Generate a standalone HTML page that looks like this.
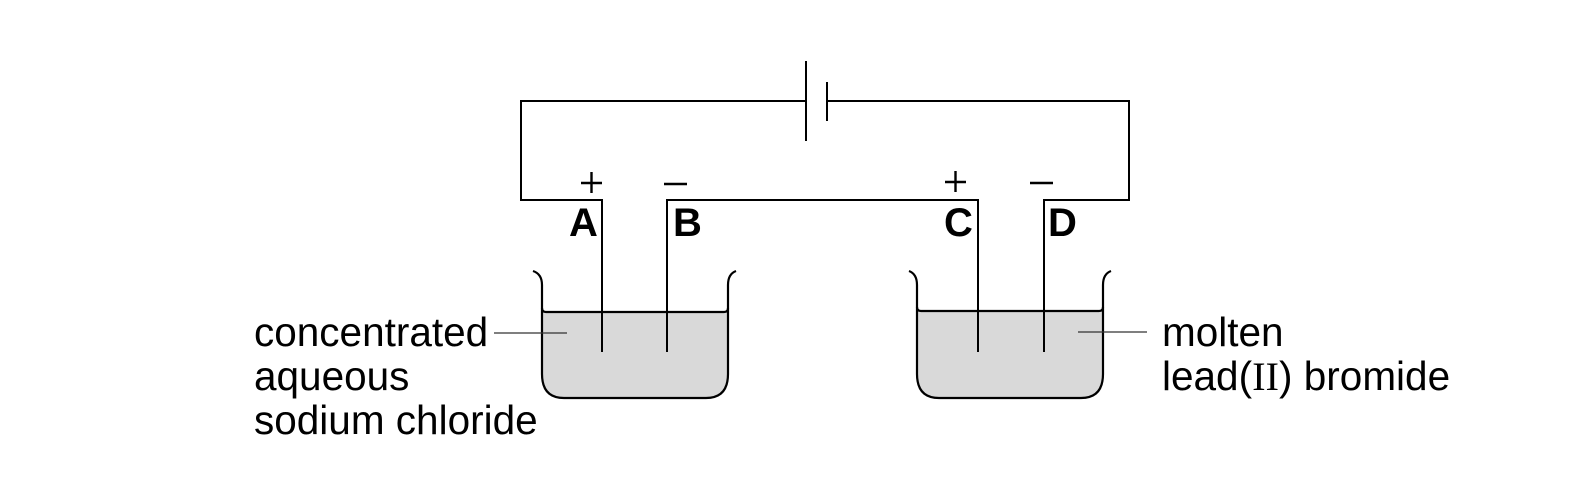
<!DOCTYPE html>
<html><head><meta charset="utf-8"><style>
html,body{margin:0;padding:0;background:#fff;}
svg{display:block;}
text{font-family:"Liberation Sans",Arial,sans-serif;fill:#000;}
</style></head><body>
<svg width="1592" height="498" viewBox="0 0 1592 498" xmlns="http://www.w3.org/2000/svg">
<rect width="1592" height="498" fill="#fff"/>
<g fill="none" stroke="#000" stroke-width="2">
<polyline points="806,101 521,101 521,200 602,200 602,352"/>
<polyline points="826,101 1129,101 1129,200 1044,200 1044,352"/>
<polyline points="667,352 667,200 978,200 978,352"/>
<line x1="806" y1="61" x2="806" y2="141"/>
<line x1="827" y1="82" x2="827" y2="121"/>
</g>
<path d="M542,312 L728,312 L728,374 Q728,398 706,398 L564,398 Q542,398 542,374 Z" fill="#d9d9d9"/>
<g fill="none" stroke="#000" stroke-width="2.2">
<path d="M533,271 Q542,274 542,285 L542,374 Q542,398 564,398 L706,398 Q728,398 728,374 L728,285 Q728,274 736,271"/>
<path d="M542,308 Q542,312 546,312 L724,312 Q728,312 728,308"/>
</g>
<path d="M917,311 L1103,311 L1103,374 Q1103,398 1081,398 L939,398 Q917,398 917,374 Z" fill="#d9d9d9"/>
<g fill="none" stroke="#000" stroke-width="2.2">
<path d="M909,271 Q917,274 917,285 L917,374 Q917,398 939,398 L1081,398 Q1103,398 1103,374 L1103,285 Q1103,274 1111,271"/>
<path d="M917,307 Q917,311 921,311 L1099,311 Q1103,311 1103,307"/>
</g>
<g stroke="#000" stroke-width="2">
<line x1="602" y1="300" x2="602" y2="352"/>
<line x1="667" y1="300" x2="667" y2="352"/>
<line x1="978" y1="300" x2="978" y2="352"/>
<line x1="1044" y1="300" x2="1044" y2="352"/>
</g>
<g stroke="#333" stroke-width="1.3">
<line x1="494" y1="333" x2="567" y2="333"/>
<line x1="1078" y1="332" x2="1147" y2="332"/>
</g>
<g stroke="#000" stroke-width="2.4">
<line x1="581" y1="183" x2="602" y2="183"/>
<line x1="591.5" y1="172" x2="591.5" y2="193"/>
<line x1="664" y1="184" x2="687" y2="184"/>
<line x1="945" y1="182" x2="966" y2="182"/>
<line x1="955.5" y1="171" x2="955.5" y2="192"/>
<line x1="1030" y1="183" x2="1053" y2="183"/>
</g>
<g font-weight="bold" font-size="40">
<text x="569" y="236">A</text>
<text x="673" y="236">B</text>
<text x="944" y="236">C</text>
<text x="1048" y="236">D</text>
</g>
<g font-size="40.5">
<text x="254" y="346">concentrated</text>
<text x="254" y="390">aqueous</text>
<text x="254" y="434">sodium chloride</text>
<text x="1162" y="346">molten</text>
<text x="1162" y="390">lead(<tspan font-family="'Liberation Serif',serif">II</tspan>) bromide</text>
</g>
</svg>
</body></html>
